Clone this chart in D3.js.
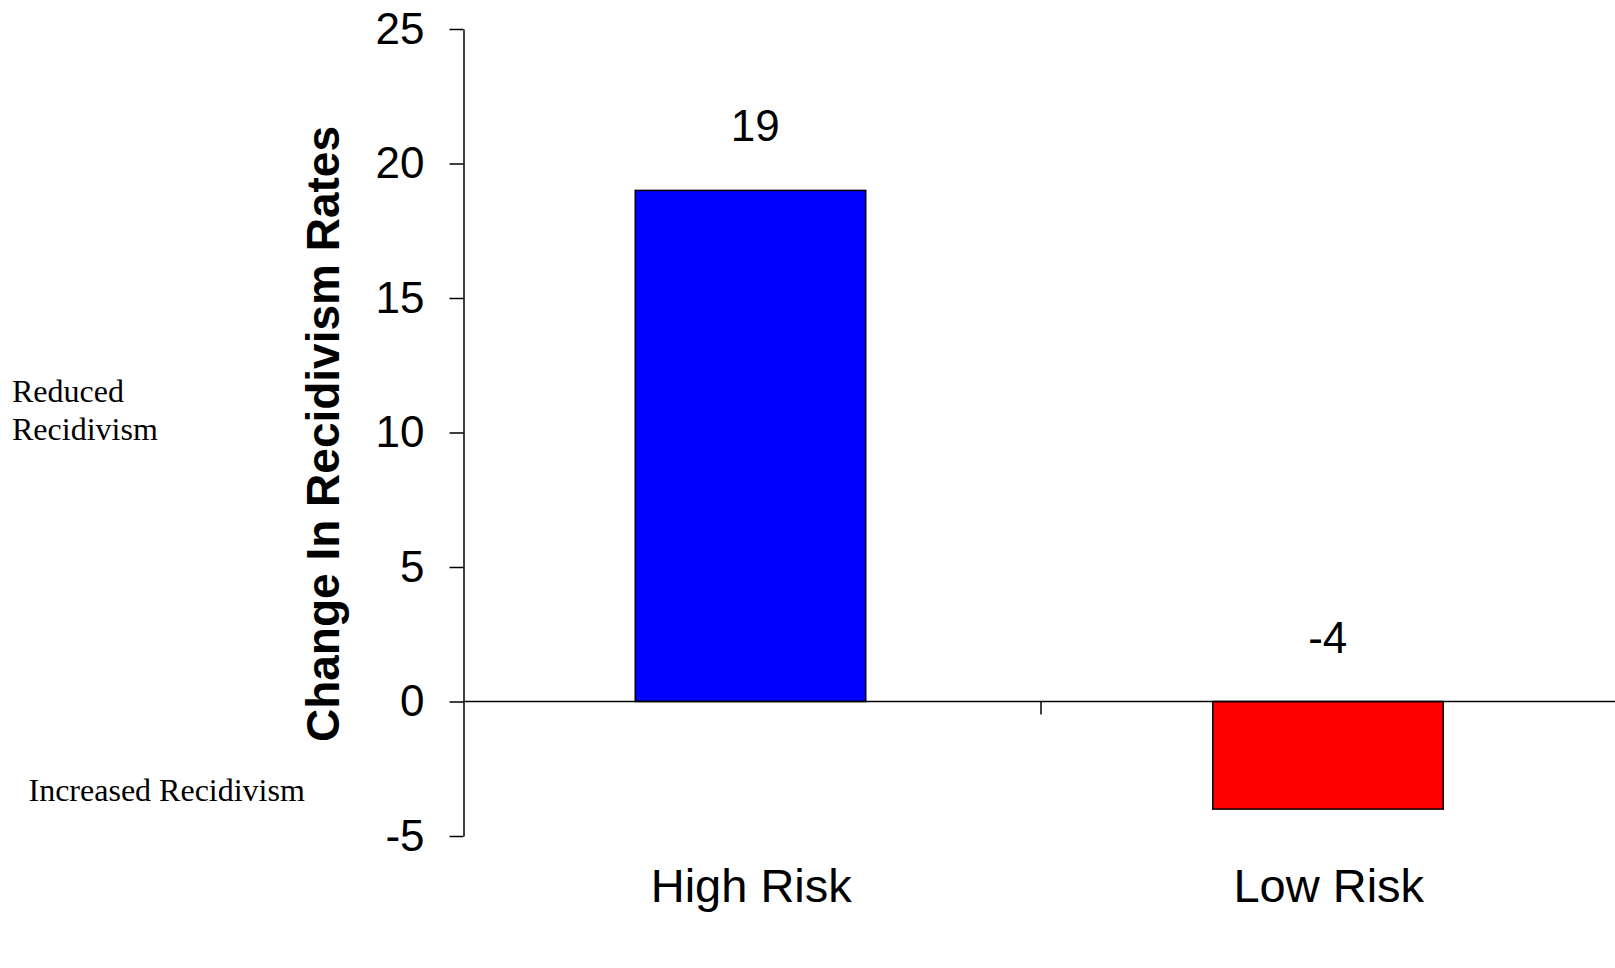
<!DOCTYPE html>
<html>
<head>
<meta charset="utf-8">
<script src="https://cdn.jsdelivr.net/npm/d3@7"></script>
<style>
  html, body { margin: 0; padding: 0; background: #fff; }
  svg { display: block; }
</style>
</head>
<body>
<svg id="chart" width="1615" height="968"></svg>
<script>
const categories = ["High Risk", "Low Risk"];
const values = [19, -4];
const barColors = ["#0000FF", "#FF0000"];
const yTicks = [-5, 0, 5, 10, 15, 20, 25];
const yTitle = "Change In Recidivism Rates";
const noteTop = ["Reduced", "Recidivism"];
const noteBottom = "Increased Recidivism";

const svg = d3.select("#chart");
const sans = "'Liberation Sans', Arial, sans-serif";
const serif = "'Liberation Serif', 'Times New Roman', serif";

const x = d3.scaleBand().domain(categories).range([463.5, 1618.5]).paddingInner(0.6).paddingOuter(0.3);
const y = d3.scaleLinear().domain([-5, 25]).range([836, 29]);

// bars
svg.selectAll("rect.bar").data(values).join("rect")
  .attr("class", "bar")
  .attr("x", (d, i) => x(categories[i]) - 1.5)
  .attr("width", x.bandwidth() - 0.5)
  .attr("y", d => y(Math.max(0, d)))
  .attr("height", d => Math.abs(y(d) - y(0)))
  .attr("fill", (d, i) => barColors[i])
  .attr("stroke", "#000")
  .attr("stroke-width", 1.5);

// zero line
svg.append("line")
  .attr("x1", 463.5).attr("x2", 1615)
  .attr("y1", y(0)).attr("y2", y(0))
  .attr("stroke", "#000").attr("stroke-width", 1.5);

// category boundary tick
const step = x.step();
svg.selectAll("line.xtick").data(categories.slice(1)).join("line")
  .attr("class", "xtick")
  .attr("x1", d => x(d) - x.paddingInner() * step / 2)
  .attr("x2", d => x(d) - x.paddingInner() * step / 2)
  .attr("y1", y(0)).attr("y2", y(0) + 13)
  .attr("stroke", "#000").attr("stroke-width", 1.5);

// y axis
const yAxis = d3.axisLeft(y).tickValues(yTicks).tickSize(14).tickSizeOuter(0)
  .tickPadding(25).tickFormat(d => String(d));
const gy = svg.append("g").attr("transform", "translate(463.5,0)").call(yAxis);
gy.selectAll("path, line").attr("stroke", "#000").attr("stroke-width", 1.5);
gy.selectAll("text").attr("font-family", sans).attr("font-size", 44).attr("fill", "#000");

// value labels
svg.selectAll("text.val").data(values).join("text")
  .attr("class", "val")
  .attr("x", (d, i) => x(categories[i]) + x.bandwidth() / 2 + (d >= 0 ? 3 : -2))
  .attr("y", d => y(Math.max(0, d)) - 49)
  .attr("text-anchor", "middle")
  .attr("font-family", sans).attr("font-size", 44).attr("fill", "#000")
  .text(d => String(d));

// category labels
svg.selectAll("text.cat").data(categories).join("text")
  .attr("class", "cat")
  .attr("x", d => x(d) + x.bandwidth() / 2 - 1)
  .attr("y", 902)
  .attr("text-anchor", "middle")
  .attr("font-family", sans).attr("font-size", 47).attr("fill", "#000")
  .text(d => d);

// y title
svg.append("text")
  .attr("transform", "translate(339,434) rotate(-90)")
  .attr("text-anchor", "middle")
  .attr("font-family", sans).attr("font-size", 46).attr("font-weight", "bold").attr("fill", "#000")
  .text(yTitle);

// notes
svg.selectAll("text.noteTop").data(noteTop).join("text")
  .attr("class", "noteTop")
  .attr("x", 12)
  .attr("y", (d, i) => 402 + i * 37.5)
  .attr("font-family", serif).attr("font-size", 32).attr("fill", "#000")
  .text(d => d);

svg.append("text")
  .attr("x", 28.5).attr("y", 801)
  .attr("font-family", serif).attr("font-size", 32).attr("fill", "#000")
  .text(noteBottom);
</script>
</body>
</html>
